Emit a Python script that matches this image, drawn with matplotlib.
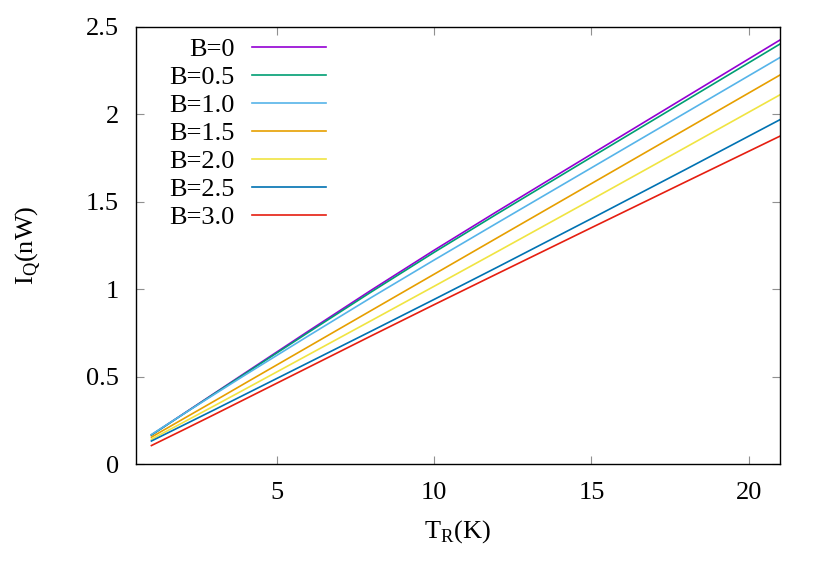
import matplotlib
matplotlib.use("Agg")
import matplotlib.pyplot as plt
from matplotlib.ticker import FuncFormatter

plt.rcParams['font.family'] = ['Liberation Serif', 'DejaVu Serif']
plt.rcParams['mathtext.fontset'] = 'custom'
plt.rcParams['mathtext.rm'] = 'Liberation Serif'

T = [1, 2, 3, 4, 6, 8, 10, 12, 15, 18, 21]
B0 = [0.167, 0.286, 0.405, 0.524, 0.761, 0.995, 1.223, 1.444, 1.771, 2.097, 2.423]
B05 = [0.167, 0.285, 0.403, 0.520, 0.754, 0.985, 1.211, 1.430, 1.754, 2.077, 2.400]
B10 = [0.170, 0.285, 0.399, 0.512, 0.734, 0.953, 1.167, 1.378, 1.693, 2.008, 2.323]
B15 = [0.155, 0.258, 0.361, 0.465, 0.672, 0.879, 1.086, 1.293, 1.603, 1.913, 2.223]
B20 = [0.143, 0.238, 0.334, 0.431, 0.626, 0.821, 1.017, 1.214, 1.511, 1.810, 2.110]
B25 = [0.133, 0.222, 0.311, 0.401, 0.581, 0.761, 0.942, 1.125, 1.403, 1.684, 1.968]
B30 = [0.107, 0.195, 0.284, 0.374, 0.554, 0.734, 0.912, 1.088, 1.351, 1.613, 1.874]

series = [B0, B05, B10, B15, B20, B25, B30]
labels = ["B=0", "B=0.5", "B=1.0", "B=1.5", "B=2.0", "B=2.5", "B=3.0"]
colors = ["#9400d3", "#009e73", "#56b4e9", "#e69f00", "#f0e442", "#0072b2", "#e51e10"]

xticks = [5, 10, 15, 20]
yticks = [0, 0.5, 1, 1.5, 2, 2.5]

W, H = 830, 581
fig = plt.figure(figsize=(W / 100, H / 100), dpi=100)
left, right, bottom, top = 135.7, 780, 464.3, 26.5
ax = fig.add_axes([left / W, 1 - bottom / H, (right - left) / W, (bottom - top) / H])

for ys, lab, c in zip(series, labels, colors):
    ax.plot(T, ys, color=c, lw=1.2, label=lab)

ax.set_xlim(0.5, 21)
ax.set_ylim(0, 2.5)
ax.set_xticks(xticks)
ax.set_yticks(yticks)
ax.yaxis.set_major_formatter(FuncFormatter(lambda v, p: "%g" % v))
ax.tick_params(direction='in', length=5.5, width=0.8, color='#909090',
               top=True, right=True, labelsize=19, labelcolor='black')
ax.tick_params(axis='x', pad=13)
ax.tick_params(axis='y', pad=12)
for s in ax.spines.values():
    s.set_linewidth(1.0)
    s.set_color('black')

ax.set_xlabel(r"T$_{\mathregular{R}}$(K)", fontsize=19, labelpad=10)
ax.set_ylabel(r"I$_{\mathregular{Q}}$(nW)", fontsize=19, labelpad=31)

leg = ax.legend(loc='upper right', bbox_to_anchor=(326 / W, 1 - 38 / H),
                bbox_transform=fig.transFigure, frameon=False, markerfirst=False,
                fontsize=19, handlelength=2.8, handletextpad=0.65,
                labelspacing=0.17, borderpad=0, borderaxespad=0)

fig.savefig("out.png", dpi=100)
